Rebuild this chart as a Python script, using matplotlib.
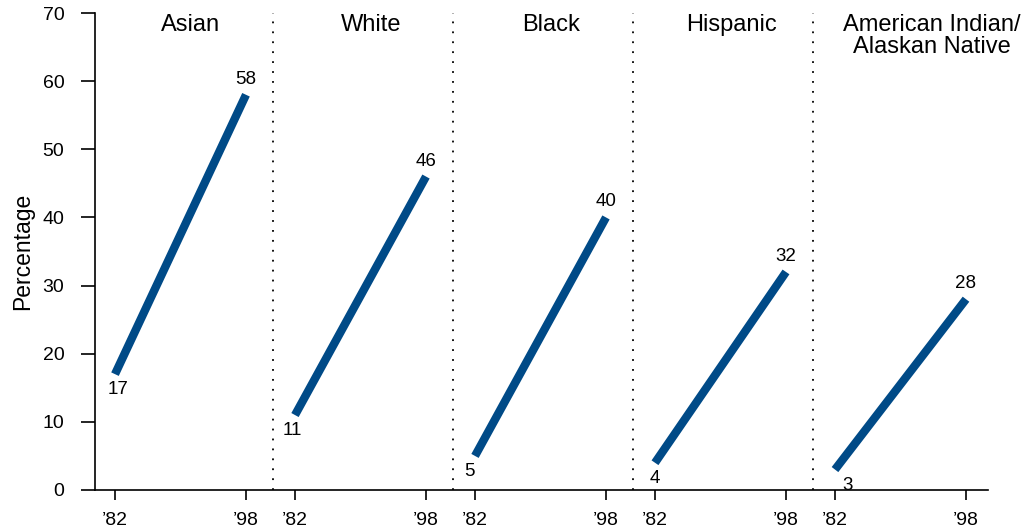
import numpy as np
import matplotlib.pyplot as plt

plt.rcParams['font.family'] = ['Liberation Sans', 'DejaVu Sans']

# data
groups = ["Asian", "White", "Black", "Hispanic", "American Indian/\nAlaskan Native"]
years = ["\u201982", "\u201998"]
pct_1982 = [17, 11, 5, 4, 3]
pct_1998 = [58, 46, 40, 32, 28]

blue = "#004a87"
step = 180      # spacing between groups
span = 131      # distance '82 -> '98 inside a group
start_dx = [2, -2, -4, 0, 9]   # nudge of the '82 labels (points)

fig = plt.figure(figsize=(10.31, 5.29), dpi=100)
ax = fig.add_axes([95 / 1031, 39 / 529, 893 / 1031, 477 / 529])

xticks = []
xlabels = []
for g, name in enumerate(groups):
    x0 = g * step
    x1 = x0 + span
    ax.plot([x0, x1], [pct_1982[g], pct_1998[g]], color=blue, lw=6,
            solid_capstyle='butt')
    ax.annotate(str(pct_1982[g]), (x0, pct_1982[g]), xytext=(start_dx[g], -5),
                textcoords='offset points', ha='center', va='top', fontsize=13.5)
    ax.annotate(str(pct_1998[g]), (x1, pct_1998[g]), xytext=(0, 5),
                textcoords='offset points', ha='center', va='bottom', fontsize=13.5)
    xticks += [x0, x1]
    xlabels += years
    # group title
    tx = x0 + 76 if g < len(groups) - 1 else x0 + 97
    ax.text(tx, 69.9, name, ha='center', va='top', fontsize=17, linespacing=1.0)
    # dotted divider
    if g < len(groups) - 1:
        ax.plot([x0 + 158, x0 + 158], [0, 70], color='black', lw=1.3,
                linestyle=(0, (1, 4.5)))

ax.set_xlim(-20, 873)
ax.set_ylim(0, 70)
ax.set_yticks(np.arange(0, 71, 10))
ax.set_xticks(xticks)
ax.set_xticklabels(xlabels)
ax.tick_params(axis='y', length=10, width=1.2, pad=12, labelsize=14)
ax.tick_params(axis='x', length=7.5, width=1.2, pad=8, labelsize=14)
ax.spines['top'].set_visible(False)
ax.spines['right'].set_visible(False)
ax.spines['left'].set_linewidth(1.2)
ax.spines['bottom'].set_linewidth(1.2)
ax.set_ylabel("Percentage", fontsize=16.5, labelpad=6)

plt.savefig("out.png", dpi=100)
